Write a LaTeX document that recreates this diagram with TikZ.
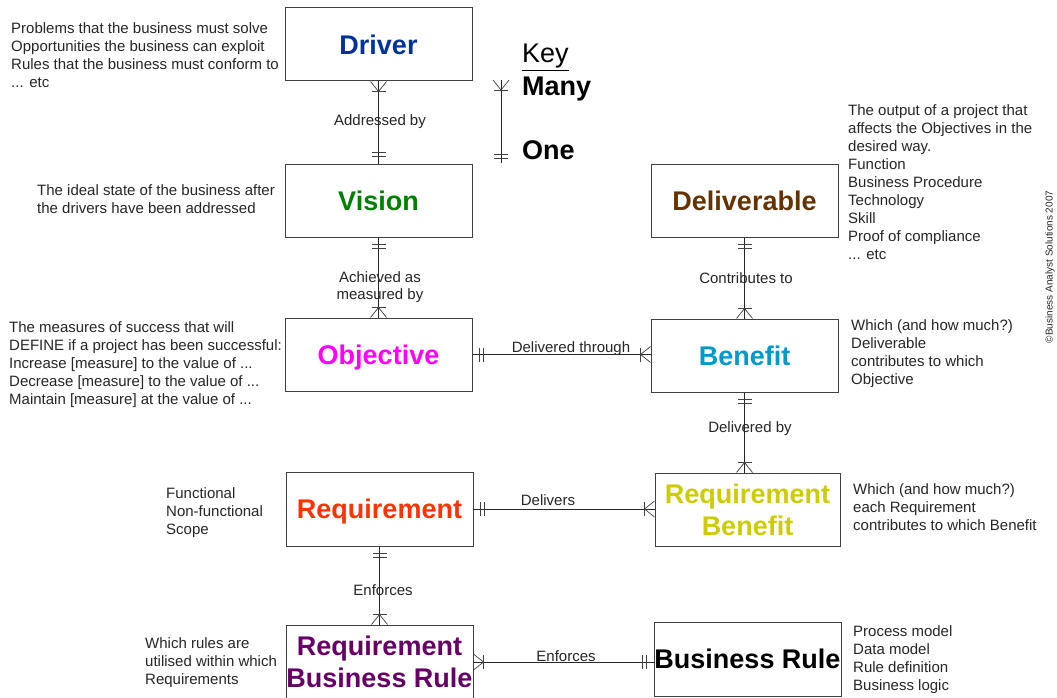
\documentclass[tikz,border=0pt]{standalone}
\usepackage{fontspec}
\setmainfont{Liberation Sans}
\usetikzlibrary{calc}
\definecolor{cDriver}{RGB}{0,51,153}
\definecolor{cVision}{RGB}{0,128,0}
\definecolor{cDeliv}{RGB}{102,51,0}
\definecolor{cObj}{RGB}{255,0,255}
\definecolor{cBen}{RGB}{0,153,204}
\definecolor{cReq}{RGB}{255,51,0}
\definecolor{cReqBen}{RGB}{204,204,0}
\definecolor{cRBR}{RGB}{102,0,102}
\definecolor{cLine}{RGB}{64,64,64}
\begin{document}
\begin{tikzpicture}[x=1pt,y=-1pt,
  entity/.style={draw=cLine, line width=1pt, minimum width=187pt, minimum height=73pt,
    inner sep=0pt, align=center, font=\fontsize{27}{32}\selectfont\bfseries,
    text height=19.3pt, text depth=0pt},
  twoline/.style={text height=51.3pt},
  note/.style={anchor=north west, inner sep=0pt, align=left, text=black!85,
    font=\fontsize{15}{18}\selectfont},
  lbl/.style={inner sep=0pt, align=center, text=black!85,
    font=\fontsize{15}{17}\selectfont},
  keytext/.style={anchor=base west, inner sep=0pt, font=\fontsize{27}{30}\selectfont},
  conn/.style={draw=black!85, line width=0.7pt},
  tip/.style={draw=cLine, line width=0.7pt},
  many/.pic={\draw[tip] (0,-8) -- (10,0) -- (0,8); \draw[tip] (10,-7) -- (10,7);},
  one/.pic={\draw[tip] (7,-7) -- (7,7) (11,-7) -- (11,7);}
]
\useasboundingbox (0,0) rectangle (1057,698);
\fill[white] (0,0) rectangle (1057,698);

% entities
\node[entity, text=cDriver] (driver) at (378.5,44.5) {Driver};
\node[entity, text=cVision] (vision) at (378.5,200.5) {Vision};
\node[entity, text=cObj] (objective) at (378.5,354.5) {Objective};
\node[entity, text=cReq, minimum height=74pt] (requirement) at (379.5,509) {Requirement};
\node[entity, twoline, text=cRBR, minimum height=74pt] (rbr) at (379.5,662) {Requirement\\Business Rule};
\node[entity, text=cDeliv] (deliverable) at (744.5,200.5) {Deliverable};
\node[entity, text=cBen] (benefit) at (744.5,355.5) {Benefit};
\node[entity, twoline, text=cReqBen, minimum width=185pt] (reqben) at (747.5,509.5) {Requirement\\Benefit};
\node[entity, text=black, minimum height=74pt] (br) at (747.5,659) {Business Rule};

% notes
\node[note] (ndriver) at (11,22) {Problems that the business must solve\\Opportunities the business can exploit\\Rules that the business must conform to\\... etc};
\node[note] (nvision) at (37,184) {The ideal state of the business after\\the drivers have been addressed};
\node[note] (nobj) at (9,321) {The measures of success that will\\DEFINE if a project has been successful:\\Increase [measure] to the value of ...\\Decrease [measure] to the value of ...\\Maintain [measure] at the value of ...};
\node[note] (nreq) at (166,487) {Functional\\Non-functional\\Scope};
\node[note] (nrbr) at (145,637) {Which rules are\\utilised within which\\Requirements};
\node[note] (ndeliv) at (848,104) {The output of a project that\\affects the Objectives in the\\desired way.\\Function\\Business Procedure\\Technology\\Skill\\Proof of compliance\\... etc};
\node[note] (nben) at (851,319) {Which (and how much?)\\Deliverable\\contributes to which\\Objective};
\node[note] (nreqben) at (853,483) {Which (and how much?)\\each Requirement\\contributes to which Benefit};
\node[note] (nbr) at (853,625) {Process model\\Data model\\Rule definition\\Business logic};

% connector labels
\node[lbl] (laddr) at (380,122) {Addressed by};
\node[lbl] (lach) at (380,287) {Achieved as\\measured by};
\node[lbl] (lcontr) at (746,278) {Contributes to};
\node[lbl] (ldelthr) at (571,349) {Delivered through};
\node[lbl] (ldelby) at (750,429) {Delivered by};
\node[lbl] (ldelivers) at (548,500) {Delivers};
\node[lbl] (lenf1) at (383,590) {Enforces};
\node[lbl] (lenf2) at (566,656) {Enforces};

% connectors
\draw[conn] (driver.south) -- (vision.north);
\path (driver.south) pic[rotate=-90] {many};
\path (vision.north) pic[rotate=90] {one};

\draw[conn] (vision.south) -- (objective.north);
\path (vision.south) pic[rotate=-90] {one};
\path (objective.north) pic[rotate=90] {many};

\draw[conn] (deliverable.south) -- (benefit.north);
\path (deliverable.south) pic[rotate=-90] {one};
\path (benefit.north) pic[rotate=90] {many};

\coordinate (rbtop) at (benefit.south |- reqben.north);
\draw[conn] (benefit.south) -- (rbtop);
\path (benefit.south) pic[rotate=-90] {one};
\path (rbtop) pic[rotate=90] {many};

\draw[conn] (requirement.south) -- (rbr.north);
\path (requirement.south) pic[rotate=-90] {one};
\path (rbr.north) pic[rotate=90] {many};

\coordinate (objB) at (benefit.west |- objective.east);
\draw[conn] (objective.east) -- (objB);
\path (objective.east) pic {one};
\path (objB) pic[rotate=180] {many};

\coordinate (reqB) at (reqben.west |- requirement.east);
\draw[conn] (requirement.east) -- (reqB);
\path (requirement.east) pic {one};
\path (reqB) pic[rotate=180] {many};

\coordinate (rbrB) at (br.west |- rbr.east);
\draw[conn] (rbr.east) -- (rbrB);
\path (rbr.east) pic {many};
\path (rbrB) pic[rotate=180] {one};

% key
\node[keytext] (keyk) at (522,63) {\underline{Key}};
\node[keytext, font=\fontsize{27}{30}\selectfont\bfseries] (keymany) at (522,96) {Many};
\node[keytext, font=\fontsize{27}{30}\selectfont\bfseries] (keyone) at (522,160) {One};
\coordinate (keytop) at (501,80);
\coordinate (keybot) at (501,163);
\coordinate (keyoneedge) at (501,165);
\draw[conn] (keytop) -- (keybot);
\path (keytop) pic[rotate=-90] {many};
\path (keyoneedge) pic[rotate=90] {one};

% copyright
\node[inner sep=0pt, rotate=90, font=\fontsize{10}{12}\selectfont, text=black!85] (copy) at (1050,267) {©Business Analyst Solutions 2007};
\end{tikzpicture}
\end{document}
